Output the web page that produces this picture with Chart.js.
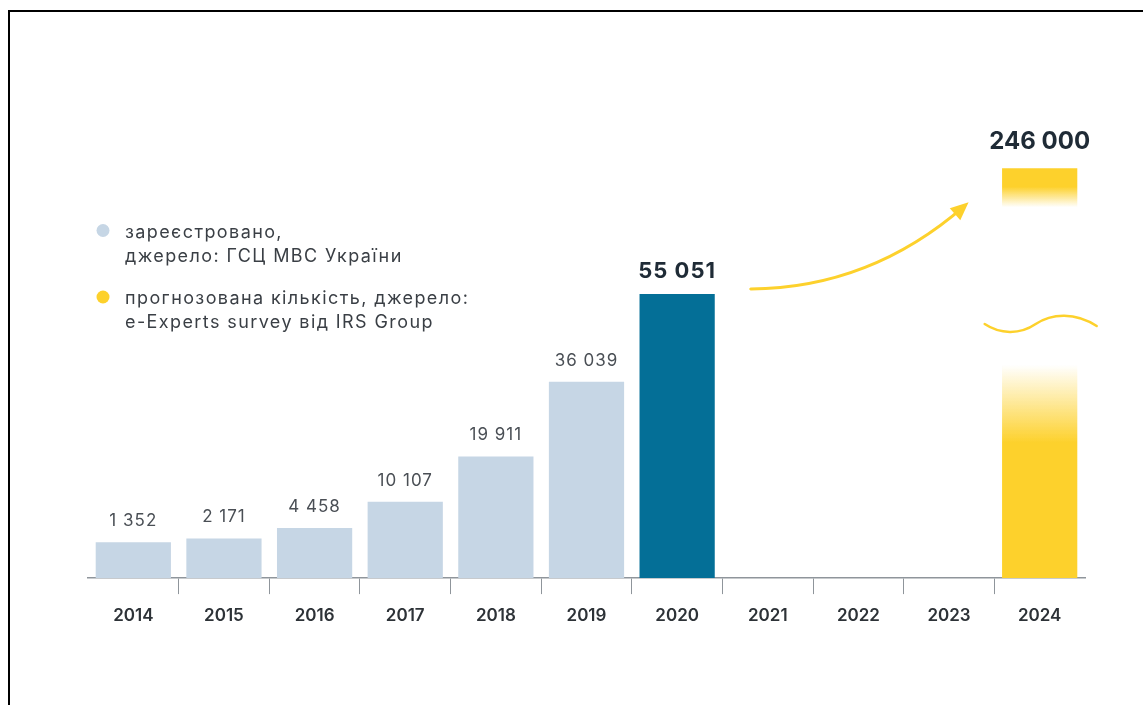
<!DOCTYPE html>
<html>
<head>
<meta charset="utf-8">
<script src="https://cdn.jsdelivr.net/npm/chart.js@4.4.1/dist/chart.umd.min.js"></script>
<style>
  html, body { margin: 0; padding: 0; background: #fff; }
  #wrap { position: relative; width: 1143px; height: 705px; overflow: hidden; }
  #frame { position: absolute; left: 8px; top: 10px; width: 1200px; height: 800px;
           border-top: 2px solid #000; border-left: 2px solid #000; pointer-events: none; }
</style>
</head>
<body>
<div id="wrap">
  <canvas id="usageChart"></canvas>
  <div id="frame"></div>
</div>
<script>
// дані
const years = ['2014', '2015', '2016', '2017', '2018', '2019', '2020', '2021', '2022', '2023', '2024'];
const registered = [1352, 2171, 4458, 10107, 19911, 36039, 55051, null, null, null, null];
const forecast = [null, null, null, null, null, null, null, null, null, null, 246000];
const highlightYear = '2020';
const legendLines = [
    ['зареєстровано,', 'джерело: ГСЦ МВС України'],
    ['прогнозована кількість, джерело:', 'e-Experts survey від IRS Group']
];

const LIGHT = '#c6d6e5';
const DARK = '#046f97';
const YELLOW = '#fdd12c';
const FONT = 'Inter';

function fmt(n) {
    return String(n).replace(/\B(?=(\d{3})+(?!\d))/g, ' ');
}

function yellowA(a) {
    return `rgba(253, 209, 44, ${a})`;
}

// градієнт для розірваного стовпчика 2024
function forecastFill(c) {
    const chart = c.chart;
    if (!chart.chartArea || c.raw == null) return YELLOW;
    const y2 = chart.scales.y2;
    const top = y2.getPixelForValue(c.raw);
    const bottom = y2.getPixelForValue(0);
    const g = chart.ctx.createLinearGradient(0, bottom, 0, top);
    g.addColorStop(0, yellowA(1));
    g.addColorStop(0.33, yellowA(1));
    g.addColorStop(0.52, yellowA(0));
    g.addColorStop(0.905, yellowA(0));
    g.addColorStop(0.955, yellowA(1));
    g.addColorStop(1, yellowA(1));
    return g;
}

const overlay = {
    id: 'overlay',
    afterDatasetsDraw(chart) {
        const ctx = chart.ctx;
        const m0 = chart.getDatasetMeta(0);
        const m1 = chart.getDatasetMeta(1);
        ctx.save();
        ctx.textAlign = 'center';
        ctx.textBaseline = 'alphabetic';

        // підписи значень
        m0.data.forEach((bar, i) => {
            const v = registered[i];
            if (v == null) return;
            const hl = years[i] === highlightYear;
            ctx.font = hl ? `700 22px ${FONT}` : `400 17px ${FONT}`;
            ctx.letterSpacing = '1px';
            ctx.fillStyle = hl ? '#1f2b36' : '#4a4f55';
            ctx.fillText(fmt(v), bar.x, bar.y - 16);
        });
        m1.data.forEach((bar, i) => {
            const v = forecast[i];
            if (v == null) return;
            ctx.font = `700 24px ${FONT}`;
            ctx.letterSpacing = '0px';
            ctx.fillStyle = '#1f2b36';
            ctx.fillText(fmt(v), bar.x, bar.y - 19);
        });

        // стрілка від 2020 до 2024
        const hi = years.indexOf(highlightYear);
        const fi = forecast.findIndex(v => v != null);
        const a = m0.data[hi], b = m1.data[fi];
        const x0 = a.x + a.width / 2 + 36, y0 = a.y - 5;
        const x2 = b.x - b.width / 2 - 38, y2 = b.y + 38;
        const cx = x0 + (x2 - x0) * 0.56, cy = y0 - 1;
        ctx.strokeStyle = YELLOW;
        ctx.fillStyle = YELLOW;
        ctx.lineWidth = 3;
        ctx.lineCap = 'round';
        ctx.beginPath();
        ctx.moveTo(x0, y0);
        ctx.quadraticCurveTo(cx, cy, x2, y2);
        ctx.stroke();
        const ang = Math.atan2(y2 - cy, x2 - cx);
        const tx = x2 + Math.cos(ang) * 6, ty = y2 + Math.sin(ang) * 6;
        ctx.beginPath();
        ctx.moveTo(tx, ty);
        ctx.lineTo(tx - 18 * Math.cos(ang) + 8 * Math.sin(ang), ty - 18 * Math.sin(ang) - 8 * Math.cos(ang));
        ctx.lineTo(tx - 18 * Math.cos(ang) - 8 * Math.sin(ang), ty - 18 * Math.sin(ang) + 8 * Math.cos(ang));
        ctx.closePath();
        ctx.fill();

        // хвиля розриву осі
        const wy = b.y + (b.base - b.y) * 0.38;
        const wx = b.x;
        ctx.lineWidth = 2.5;
        ctx.beginPath();
        ctx.moveTo(wx - 55, wy);
        ctx.bezierCurveTo(wx - 40, wy + 10, wx - 20, wy + 11, wx - 4, wy);
        ctx.bezierCurveTo(wx + 12, wy - 11, wx + 36, wy - 12, wx + 57, wy + 2);
        ctx.stroke();

        // легенда
        const colors = [LIGHT, YELLOW];
        const lx = 103, tx0 = 125;
        const rows = [237.5, 304];
        ctx.textAlign = 'left';
        ctx.font = `400 18px ${FONT}`;
        ctx.letterSpacing = '1.4px';
        legendLines.forEach((lines, k) => {
            ctx.fillStyle = colors[k];
            ctx.beginPath();
            ctx.arc(lx, rows[k] - 7, 6.5, 0, Math.PI * 2);
            ctx.fill();
            ctx.fillStyle = '#3a3f45';
            lines.forEach((t, j) => ctx.fillText(t, tx0, rows[k] + j * 24));
        });
        ctx.restore();
    }
};

const ctx = document.getElementById('usageChart').getContext('2d');
new Chart(ctx, {
    type: 'bar',
    data: {
        labels: years,
        datasets: [
            {
                label: 'зареєстровано',
                data: registered,
                backgroundColor: years.map(y => y === highlightYear ? DARK : LIGHT),
                base: -6400,
                yAxisID: 'y'
            },
            {
                label: 'прогнозована кількість',
                data: forecast,
                backgroundColor: forecastFill,
                yAxisID: 'y2'
            }
        ]
    },
    options: {
        responsive: true,
        maintainAspectRatio: false,
        animation: false,
        events: [],
        layout: { padding: { left: 88, right: 58, top: 100, bottom: 66.5 } },
        datasets: { bar: { grouped: false, barPercentage: 0.83, categoryPercentage: 1, borderWidth: 0 } },
        plugins: { legend: { display: false }, tooltip: { enabled: false } },
        scales: {
            x: {
                grid: {
                    offset: true,
                    drawOnChartArea: false,
                    tickLength: 16,
                    color: c => (c.type !== 'tick' || c.index === 0) ? 'rgba(0,0,0,0)' : '#8f959b'
                },
                border: { display: true, color: '#8f959b', width: 1.5 },
                ticks: { color: '#2d3237', padding: 12, font: { family: FONT, size: 17, weight: '600' } }
            },
            y: { display: false, min: -6400, max: 97000 },
            y2: { display: false, min: 0, max: 287000 }
        }
    },
    plugins: [overlay]
});
</script>
</body>
</html>
